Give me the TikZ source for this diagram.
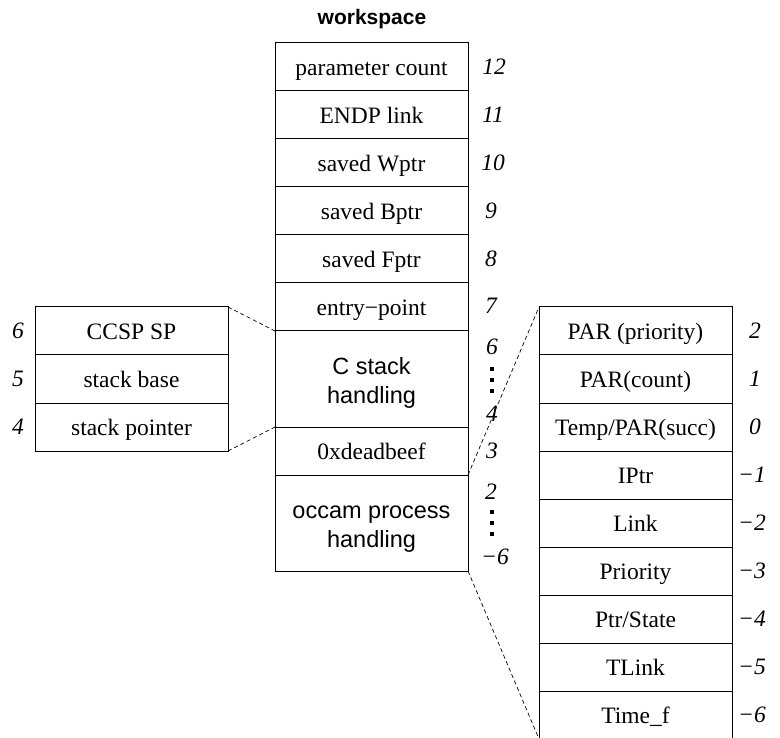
\documentclass[tikz,border=0pt]{standalone}
\usepackage{fontspec}
\setmainfont{Liberation Serif}
\newfontfamily\sansf{Liberation Sans}
% strut that gives every line of a tall cell the same height and depth
\newcommand\linestrut{\rule[-3pt]{0pt}{27pt}}
\begin{document}
\begin{tikzpicture}[x=1pt,y=-1pt,
  boxbase/.style={draw, line width=1pt, outer sep=0pt, inner sep=0pt,
    minimum width=193pt, anchor=north west},
  cell/.style={boxbase, minimum height=48pt, text height=20pt, text depth=3pt,
    font=\fontsize{23.5}{28}\selectfont},
  bigcell/.style={boxbase, minimum height=96pt, align=center,
    font=\sansf\fontsize{23.5}{29}\selectfont},
  idx/.style={font=\itshape\fontsize{23.5}{28}\selectfont, inner sep=0pt},
  dotsq/.style={fill=black, minimum size=4pt, inner sep=0pt, outer sep=0pt},
  link/.style={dashed, dash pattern=on 4pt off 3pt, line width=0.7pt}]
\useasboundingbox (0,0) rectangle (780,738);

% title
\node[font=\sansf\bfseries\fontsize{21}{25}\selectfont] (title) at (372,19) {workspace};

% workspace column
\node[cell] (m12) at (275,43)  {parameter count};
\node[cell] (m11) at (275,91)  {ENDP link};
\node[cell] (m10) at (275,139) {saved Wptr};
\node[cell] (m9)  at (275,187) {saved Bptr};
\node[cell] (m8)  at (275,235) {saved Fptr};
\node[cell] (m7)  at (275,283) {entry−point};
\node[bigcell] (mc) at (275,331) {\linestrut C stack\\\linestrut handling};
\node[cell] (m3)  at (275,427) {0xdeadbeef};
\node[bigcell] (mo) at (275,475) {\linestrut occam process\\\linestrut handling};

% workspace offsets
\node[idx] (n12) at (494,67)  {12};
\node[idx] (n11) at (493,115) {11};
\node[idx] (n10) at (493,163) {10};
\node[idx] (n9)  at (491,211) {9};
\node[idx] (n8)  at (491,259) {8};
\node[idx] (n7)  at (491,306) {7};
\node[idx] (n6)  at (492,347) {6};
\node[dotsq] (d1) at (492,369) {};
\node[dotsq] (d2) at (492,380) {};
\node[dotsq] (d3) at (492,391) {};
\node[idx] (n4)  at (492,414) {4};
\node[idx] (n3)  at (492,451) {3};
\node[idx] (n2)  at (491,492) {2};
\node[dotsq] (d4) at (492,512) {};
\node[dotsq] (d5) at (492,523) {};
\node[dotsq] (d6) at (492,534) {};
\node[idx] (nm6) at (495,557) {−6};

% C stack detail
\node[cell] (c6) at (35,307) {CCSP SP};
\node[cell] (c5) at (35,355) {stack base};
\node[cell] (c4) at (35,403) {stack pointer};
\node[idx] (k6) at (18,331) {6};
\node[idx] (k5) at (18,379) {5};
\node[idx] (k4) at (18,427) {4};

% occam process detail
\node[cell] (p2)  at (539,307) {PAR (priority)};
\node[cell] (p1)  at (539,355) {PAR(count)};
\node[cell] (p0)  at (539,403) {Temp/PAR(succ)};
\node[cell] (pm1) at (539,451) {IPtr};
\node[cell] (pm2) at (539,499) {Link};
\node[cell] (pm3) at (539,547) {Priority};
\node[cell] (pm4) at (539,595) {Ptr/State};
\node[cell] (pm5) at (539,643) {TLink};
\node[cell] (pm6) at (539,691) {Time\_f};
\node[idx] (q2)  at (755,331) {2};
\node[idx] (q1)  at (755,379) {1};
\node[idx] (q0)  at (755,427) {0};
\node[idx, anchor=west] (qm1) at (738,475) {−1};
\node[idx, anchor=west] (qm2) at (738,523) {−2};
\node[idx, anchor=west] (qm3) at (738,571) {−3};
\node[idx, anchor=west] (qm4) at (738,619) {−4};
\node[idx, anchor=west] (qm5) at (738,667) {−5};
\node[idx, anchor=west] (qm6) at (738,715) {−6};

% expansion guides
\draw[link] (c6.north east) -- (mc.north west);
\draw[link] (c4.south east) -- (mc.south west);
\draw[link] (m3.south east) -- (p2.north west);
\draw[link] (mo.south east) -- (pm6.south west);
\end{tikzpicture}
\end{document}
